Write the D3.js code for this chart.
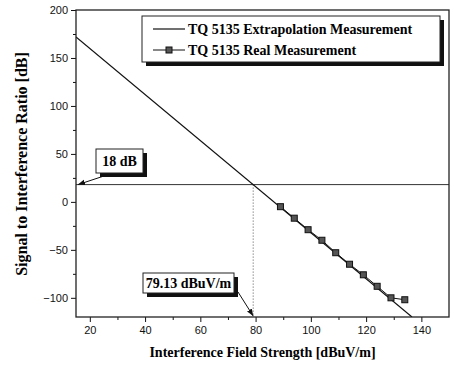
<!DOCTYPE html>
<html><head><meta charset="utf-8">
<script src="https://cdn.jsdelivr.net/npm/d3@7"></script>
<style>body{margin:0;background:#fff}svg{display:block}</style>
</head><body><svg id="c" width="451" height="368"></svg>
<script>
const xTicks = [20, 40, 60, 80, 100, 120, 140];
const yTicks = [-100, -50, 0, 50, 100, 150, 200];
const extrapX = [15, 136.6];
const extrapY = [171.9, -120];
const realX = [89, 94, 99, 104, 109, 114, 119, 124, 129, 134];
const realY = [-5, -17, -29, -40, -53, -65, -76, -88, -100, -102];
const threshold = 18;
const crossX = 79.13;
const seriesNames = ["TQ 5135 Extrapolation Measurement", "TQ 5135 Real Measurement"];

const svg = d3.select("#c");
const L = 76, R = 449, T = 10, B = 317;
const x = d3.scaleLinear().domain([15, 150]).range([L, R]);
const y = d3.scaleLinear().domain([-120, 200]).range([B, T]);
const serif = "'Liberation Serif','Times New Roman',serif";
const sans = "'Liberation Sans',Arial,sans-serif";

const defs = svg.append("defs");
defs.append("clipPath").attr("id","clip").append("rect").attr("x",L).attr("y",T).attr("width",R-L).attr("height",B-T);
defs.append("marker").attr("id","arr").attr("viewBox","0 0 10 10").attr("refX",10).attr("refY",5)
  .attr("markerWidth",7).attr("markerHeight",7).attr("orient","auto")
  .append("path").attr("d","M0,1 L10,5 L0,9 Z").attr("fill","#111");

// threshold line
svg.append("line").attr("x1",L).attr("x2",R).attr("y1",y(threshold)).attr("y2",y(threshold))
  .attr("stroke","#333").attr("stroke-width",1);
// vertical dotted
svg.append("line").attr("x1",x(crossX)).attr("x2",x(crossX)).attr("y1",y(threshold)).attr("y2",B)
  .attr("stroke","#555").attr("stroke-width",1).attr("stroke-dasharray","1,2");

const g = svg.append("g").attr("clip-path","url(#clip)");
const line = d3.line().x(d=>x(d[0])).y(d=>y(d[1]));
g.append("path").attr("d", line(d3.zip(extrapX, extrapY))).attr("fill","none").attr("stroke","#111").attr("stroke-width",1.2);
g.append("path").attr("d", line(d3.zip(realX, realY))).attr("fill","none").attr("stroke","#111").attr("stroke-width",1);
g.selectAll("rect.pt").data(d3.zip(realX, realY)).enter().append("rect").attr("class","pt")
  .attr("x",d=>x(d[0])-3).attr("y",d=>y(d[1])-3).attr("width",6).attr("height",6)
  .attr("fill","#555").attr("stroke","#111").attr("stroke-width",1);

// axes
const xAxis = d3.axisBottom(x).tickValues(xTicks).tickSize(5).tickPadding(4);
const xa = svg.append("g").attr("transform",`translate(0,${B})`).call(xAxis);
const yAxis = d3.axisLeft(y).tickValues(yTicks).tickSize(5).tickPadding(3);
const ya = svg.append("g").attr("transform",`translate(${L},0)`).call(yAxis);
// minor ticks
svg.append("g").attr("transform",`translate(0,${B})`).call(d3.axisBottom(x).tickValues(d3.range(30,150,20)).tickSize(3).tickFormat(""));
svg.append("g").attr("transform",`translate(${L},0)`).call(d3.axisLeft(y).tickValues(d3.range(-75,200,50)).tickSize(3).tickFormat(""));
svg.selectAll(".domain").remove();
svg.selectAll(".tick line").attr("stroke","#111");
[xa, ya].forEach(a=>a.selectAll("text").attr("font-family",sans).attr("font-size",11).attr("fill","#111"));

// frame
svg.append("rect").attr("x",L).attr("y",T).attr("width",R-L).attr("height",B-T)
  .attr("fill","none").attr("stroke","#222").attr("stroke-width",1.3);

// titles
svg.append("text").attr("x",(L+R)/2).attr("y",357).attr("text-anchor","middle")
  .attr("font-family",serif).attr("font-weight","bold").attr("font-size",14).text("Interference Field Strength [dBuV/m]");
svg.append("text").attr("transform",`translate(27,164) rotate(-90)`).attr("text-anchor","middle")
  .attr("font-family",serif).attr("font-weight","bold").attr("font-size",16).text("Signal to Interference Ratio [dB]");

// legend
const lg = svg.append("g");
lg.append("rect").attr("x",146).attr("y",20).attr("width",298).attr("height",46).attr("fill","#111");
lg.append("rect").attr("x",142).attr("y",16).attr("width",298).attr("height",46).attr("fill","#fff").attr("stroke","#222");
lg.append("line").attr("x1",153).attr("x2",185).attr("y1",29).attr("y2",29).attr("stroke","#111").attr("stroke-width",1.2);
lg.append("line").attr("x1",153).attr("x2",185).attr("y1",50).attr("y2",50).attr("stroke","#111");
lg.append("rect").attr("x",166).attr("y",47).attr("width",6).attr("height",6).attr("fill","#555").attr("stroke","#111");
lg.selectAll("text.lt").data(seriesNames).enter().append("text").attr("class","lt")
  .attr("x",188).attr("y",(d,i)=>34+i*21).attr("font-family",serif).attr("font-weight","bold").attr("font-size",14)
  .text(d=>d);

// annotation boxes
function box(x0,y0,w,h,txt){
  svg.append("rect").attr("x",x0+4).attr("y",y0+4).attr("width",w).attr("height",h).attr("fill","#111");
  svg.append("rect").attr("x",x0).attr("y",y0).attr("width",w).attr("height",h).attr("fill","#fff").attr("stroke","#222");
  svg.append("text").attr("x",x0+w/2).attr("y",y0+h/2+5).attr("text-anchor","middle")
    .attr("font-family",serif).attr("font-weight","bold").attr("font-size",14).text(txt);
}
svg.append("line").attr("x1",110).attr("y1",174).attr("x2",x(15)+2).attr("y2",y(threshold))
  .attr("stroke","#111").attr("marker-end","url(#arr)");
box(96,149,47,24, threshold + " dB");
svg.append("line").attr("x1",238).attr("y1",292).attr("x2",x(crossX)).attr("y2",B-1)
  .attr("stroke","#111").attr("marker-end","url(#arr)");
box(143,273,91,20, crossX + " dBuV/m");
</script></body></html>
